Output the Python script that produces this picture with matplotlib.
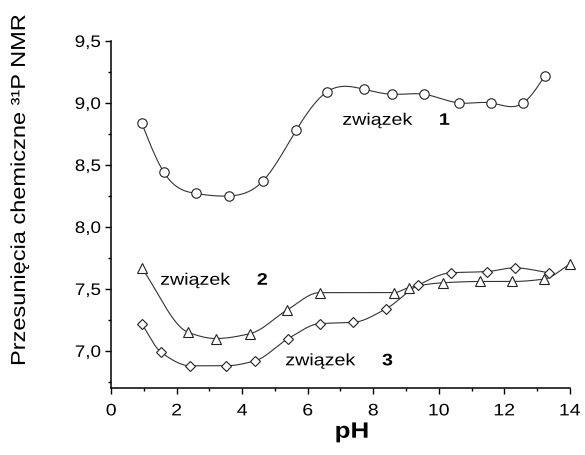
import numpy as np
import matplotlib
matplotlib.use("Agg")
import matplotlib.pyplot as plt
from matplotlib.ticker import FuncFormatter, MultipleLocator
from matplotlib.patheffects import AbstractPathEffect
from matplotlib.transforms import Affine2D

plt.rcParams['font.family'] = ['Liberation Sans', 'DejaVu Sans']

# compound 1 (circles)
ph1 = [0.93, 1.61, 2.59, 3.61, 4.63, 5.65, 6.59, 7.72, 8.57, 9.55, 10.62, 11.60, 12.58, 13.24]
d1 = [8.84, 8.44, 8.27, 8.25, 8.37, 8.78, 9.09, 9.11, 9.07, 9.07, 9.00, 9.00, 9.00, 9.22]
# compound 2 (triangles)
ph2 = [0.93, 2.35, 3.19, 4.25, 5.37, 6.36, 8.63, 9.09, 10.13, 11.25, 12.25, 13.22, 14.0]
d2 = [7.67, 7.15, 7.10, 7.14, 7.33, 7.47, 7.47, 7.51, 7.55, 7.56, 7.56, 7.58, 7.70]
# compound 3 (diamonds)
ph3 = [0.93, 1.52, 2.42, 3.50, 4.39, 5.41, 6.36, 7.39, 8.39, 9.37, 10.37, 11.47, 12.32, 13.37]
d3 = [7.22, 6.99, 6.88, 6.88, 6.92, 7.10, 7.22, 7.23, 7.34, 7.53, 7.63, 7.64, 7.67, 7.63]

labels = ["związek", "związek", "związek"]
numbers = ["1", "2", "3"]
yticklabels_fmt = ","  # decimal comma


class Stretch(AbstractPathEffect):
    """Widen glyphs along the baseline (reference uses a wide font)."""
    def __init__(self, sx=1.17, anchor='center'):
        super().__init__()
        self.sx = sx
        self.anchor = anchor

    def draw_path(self, renderer, gc, tpath, affine, rgbFace=None):
        ext = tpath.get_extents()
        if self.anchor == 'left':
            a = ext.x0
        elif self.anchor == 'right':
            a = ext.x1
        else:
            a = 0.5 * (ext.x0 + ext.x1)
        t = Affine2D().translate(-a, 0).scale(self.sx, 1).translate(a, 0) + affine
        renderer.draw_path(gc, tpath, t, rgbFace)


def natural_spline(x, y, n=400):
    x = np.asarray(x, float)
    y = np.asarray(y, float)
    k = len(x)
    h = np.diff(x)
    A = np.zeros((k, k))
    b = np.zeros(k)
    A[0, 0] = 1
    A[-1, -1] = 1
    for i in range(1, k - 1):
        A[i, i - 1] = h[i - 1]
        A[i, i] = 2 * (h[i - 1] + h[i])
        A[i, i + 1] = h[i]
        b[i] = 3 * ((y[i + 1] - y[i]) / h[i] - (y[i] - y[i - 1]) / h[i - 1])
    c = np.linalg.solve(A, b)
    xs = np.linspace(x[0], x[-1], n)
    idx = np.clip(np.searchsorted(x, xs) - 1, 0, k - 2)
    dx = xs - x[idx]
    hi = h[idx]
    bi = (y[idx + 1] - y[idx]) / hi - hi * (2 * c[idx] + c[idx + 1]) / 3
    di = (c[idx + 1] - c[idx]) / (3 * hi)
    ys = y[idx] + bi * dx + c[idx] * dx ** 2 + di * dx ** 3
    return xs, ys


def pchip(x, y, n=400):
    x = np.asarray(x, float)
    y = np.asarray(y, float)
    h = np.diff(x)
    delta = np.diff(y) / h
    k = len(x)
    m = np.zeros(k)
    for i in range(1, k - 1):
        if delta[i - 1] * delta[i] > 0:
            w1 = 2 * h[i] + h[i - 1]
            w2 = h[i] + 2 * h[i - 1]
            m[i] = (w1 + w2) / (w1 / delta[i - 1] + w2 / delta[i])
    m[0] = delta[0]
    m[-1] = delta[-1]
    xs = np.linspace(x[0], x[-1], n)
    idx = np.clip(np.searchsorted(x, xs) - 1, 0, k - 2)
    t = (xs - x[idx]) / h[idx]
    h00 = 2 * t ** 3 - 3 * t ** 2 + 1
    h10 = t ** 3 - 2 * t ** 2 + t
    h01 = -2 * t ** 3 + 3 * t ** 2
    h11 = t ** 3 - t ** 2
    ys = h00 * y[idx] + h10 * h[idx] * m[idx] + h01 * y[idx + 1] + h11 * h[idx] * m[idx + 1]
    return xs, ys


fig = plt.figure(figsize=(5.85, 4.55), dpi=100)
ax = fig.add_axes([0.190, 0.147, 0.784, 0.763])

line_kw = dict(color='#333333', lw=0.8, zorder=2)
mk_kw = dict(ls='none', mfc='white', mec='#222222', mew=0.8, zorder=3, clip_on=False)

series = [(ph1, d1, 'o', 6.8, natural_spline),
          (ph2, d2, '^', 7.2, pchip),
          (ph3, d3, 'D', 5.6, pchip)]
for px, py, m, ms, interp in series:
    xs, ys = interp(px, py)
    ax.plot(xs, ys, **line_kw)
    ax.plot(px, py, marker=m, ms=ms, **mk_kw)

ax.set_xlim(0, 14)
ax.set_ylim(6.70, 9.5)
ax.spines['top'].set_visible(False)
ax.spines['right'].set_visible(False)
for s in ['left', 'bottom']:
    ax.spines[s].set_linewidth(1.1)

ax.xaxis.set_major_locator(MultipleLocator(2))
ax.xaxis.set_minor_locator(MultipleLocator(1))
ax.yaxis.set_major_locator(MultipleLocator(0.5))
ax.yaxis.set_minor_locator(MultipleLocator(0.25))
ax.yaxis.set_major_formatter(FuncFormatter(lambda v, p: f"{v:.1f}".replace('.', yticklabels_fmt)))
ax.tick_params(which='major', direction='out', length=4, width=1.0, labelsize=12)
ax.tick_params(which='minor', direction='out', length=2.5, width=1.0)
ax.tick_params(axis='y', pad=3.5)
ax.tick_params(axis='x', pad=7)

fig.canvas.draw()
for lab in ax.get_yticklabels():
    lab.set_path_effects([Stretch(1.13, 'right')])
for lab in ax.get_xticklabels():
    lab.set_path_effects([Stretch(1.17, 'center')])

xl = ax.set_xlabel("pH", fontsize=16, fontweight='bold', va='center')
ax.xaxis.set_label_coords(0.525, -0.127)
xl.set_path_effects([Stretch(1.17, 'center')])

yl = ax.set_ylabel("Przesunięcia chemiczne ³¹P NMR", fontsize=14.5, va='center')
ax.yaxis.set_label_coords(-0.200, 0.571)
yl.set_path_effects([Stretch(1.17, 'center')])

ann = [(7.06, 8.86), (1.5, 7.57), (5.32, 6.92)]
for (x, y), lab, num in zip(ann, labels, numbers):
    t1 = ax.text(x, y, lab, fontsize=12, va='center', ha='left')
    t1.set_path_effects([Stretch(1.18, 'left')])
    t2 = ax.text(x + 2.95, y, num, fontsize=12, fontweight='bold', va='center', ha='left')
    t2.set_path_effects([Stretch(1.18, 'left')])

fig.savefig("out.png", dpi=100)
